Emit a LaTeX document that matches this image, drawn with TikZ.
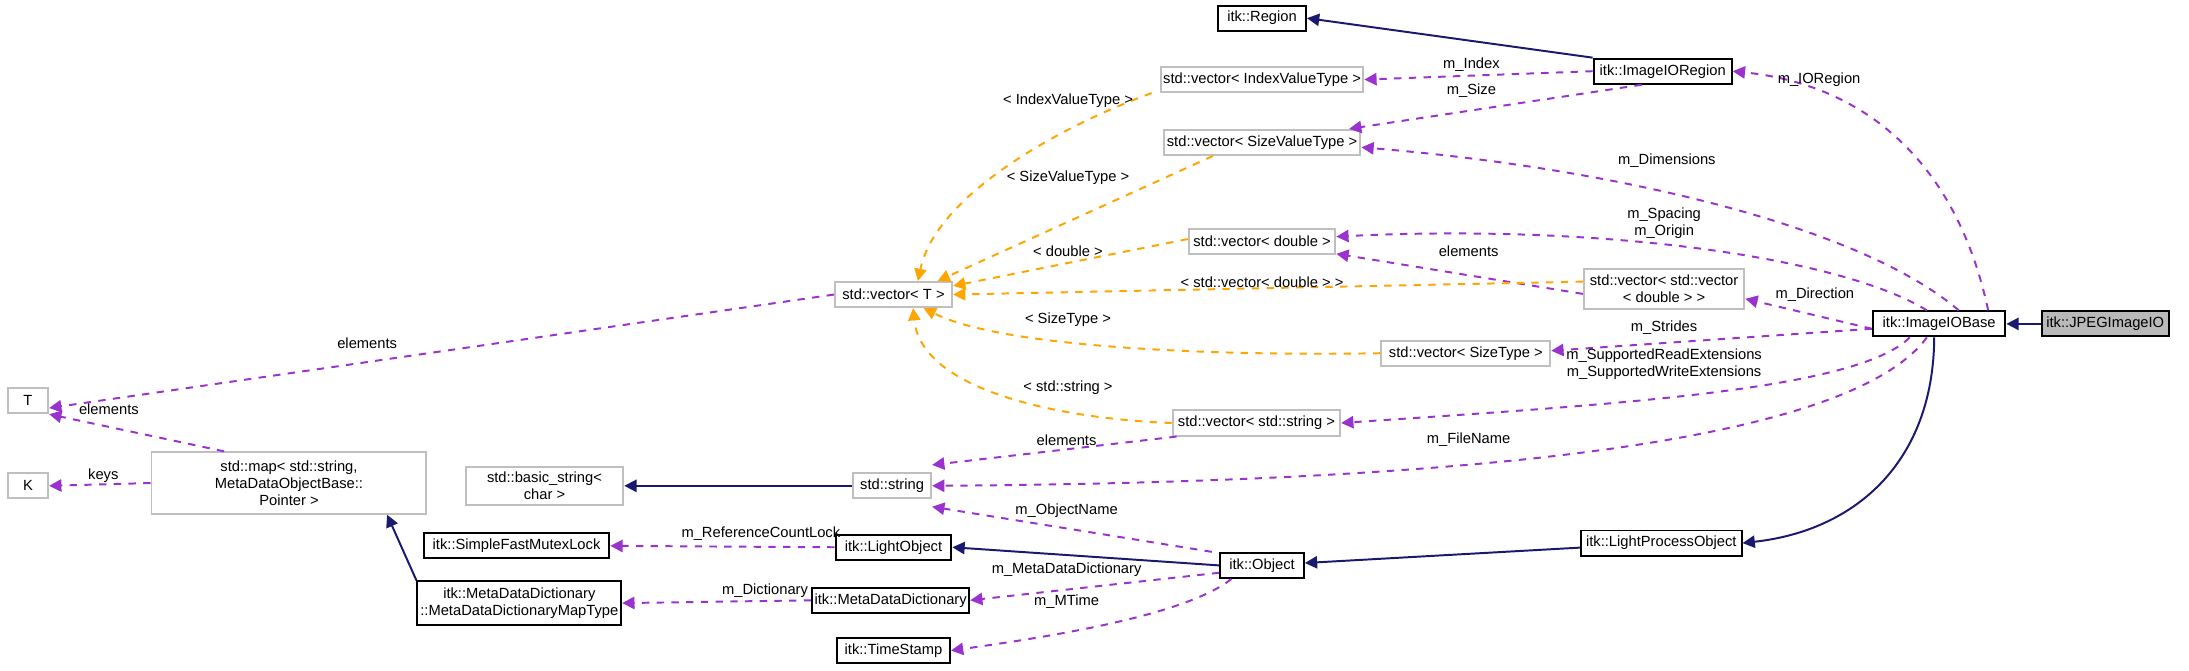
\documentclass[tikz,border=0pt]{standalone}
\usepackage{fontspec}
\setmainfont{Liberation Sans}
\usetikzlibrary{arrows.meta}
\definecolor{pur}{HTML}{9A32CD}
\definecolor{nav}{HTML}{191970}
\definecolor{org}{HTML}{FFA500}
\definecolor{gb}{HTML}{BFBFBF}
\begin{document}
\begin{tikzpicture}[x=0.02cm,y=-0.02cm,
  every node/.style={font=\fontsize{6}{7}\selectfont},
  box/.style={draw=black,thick,fill=white,minimum height=0.36cm,inner sep=1pt,align=center},
  gbox/.style={draw=gb,thick,fill=white,minimum height=0.36cm,inner sep=1pt,align=center},
  inh/.style={draw=nav,thick,-{Triangle[length=5pt,width=5pt]}},
  use/.style={draw=pur,thick,dashed,-{Triangle[length=5pt,width=5pt]}},
  tpl/.style={draw=org,thick,dashed,-{Triangle[length=5pt,width=5pt]}},
  lab/.style={inner sep=0pt,align=center}]
\useasboundingbox (0,0) rectangle (1568,480);
% nodes
\node[box,fill=gray!55,minimum width=1.82cm] (jpeg) at (1508,232) {itk::JPEGImageIO};
\node[box,minimum width=1.9cm] (iob) at (1389,232) {itk::ImageIOBase};
\node[box,minimum width=1.26cm] (reg) at (904,13) {itk::Region};
\node[box,minimum width=1.98cm] (ior) at (1191,51) {itk::ImageIORegion};
\node[gbox,minimum width=2.9cm] (ivt) at (904,57) {std::vector< IndexValueType >};
\node[gbox,minimum width=2.82cm] (svt) at (904,102) {std::vector< SizeValueType >};
\node[gbox,minimum width=2.1cm] (vd) at (904,173) {std::vector< double >};
\node[gbox,minimum width=2.3cm,minimum height=0.58cm] (vv) at (1192,207) {std::vector< std::vector\\< double > >};
\node[gbox,minimum width=1.68cm] (vt) at (640,211) {std::vector< T >};
\node[gbox,minimum width=2.42cm] (vst) at (1050,253) {std::vector< SizeType >};
\node[gbox,minimum width=2.4cm] (vs) at (900,303) {std::vector< std::string >};
\node[gbox,minimum width=0.58cm] (T) at (20,287) {T};
\node[gbox,minimum width=0.58cm] (K) at (20,348) {K};
\node[gbox,minimum width=3.94cm,minimum height=0.88cm] (map) at (207,346) {std::map< std::string,\\ MetaDataObjectBase::\\Pointer >};
\node[gbox,minimum width=2.26cm,minimum height=0.54cm] (bs) at (390,348) {std::basic\_string<\\char >};
\node[gbox,minimum width=1.12cm] (str) at (639,348) {std::string};
\node[box,minimum width=2.66cm] (sfml) at (370,391) {itk::SimpleFastMutexLock};
\node[box,minimum width=1.66cm] (lo) at (640,392) {itk::LightObject};
\node[box,minimum width=2.92cm,minimum height=0.62cm] (mt) at (372,432) {itk::MetaDataDictionary\\::MetaDataDictionaryMapType};
\node[box,minimum width=2.24cm] (mdd) at (638,430) {itk::MetaDataDictionary};
\node[box,minimum width=1.2cm] (obj) at (904,405) {itk::Object};
\node[box,minimum width=2.3cm] (lpo) at (1190,389) {itk::LightProcessObject};
\node[box,minimum width=1.62cm] (ts) at (640,466) {itk::TimeStamp};
% inheritance
\draw[inh] (jpeg) -- (iob);
\draw[inh] ([xshift=-2pt]iob.south) .. controls (1385,330) and (1330,380) .. (lpo.east);
\draw[inh] (lpo) -- (obj);
\draw[inh] (obj.west) -- (lo.east);
\draw[inh] (ior.north west) -- (reg.east);
\draw[inh] (str) -- (bs);
\draw[inh] (mt.north west) -- ([xshift=40pt]map.south);
% usage
\draw[use] (ior.west) -- (ivt.east);
\node[lab] at (1054,46) {m\_Index};
\draw[use] ([xshift=20pt]ior.south west) -- ([xshift=-5pt]svt.north east);
\node[lab] at (1054,65) {m\_Size};
\draw[use] ([xshift=20pt]iob.north) .. controls (1400,110) and (1330,60) .. (ior.east);
\node[lab] at (1303,57) {m\_IORegion};
\draw[use] ([xshift=8pt]iob.north) .. controls (1330,160) and (1150,120) .. ([yshift=-2pt]svt.east);
\node[lab] at (1194,115) {m\_Dimensions};
\draw[use] ([xshift=-5pt]iob.north) .. controls (1320,185) and (1150,160) .. ([yshift=2pt]vd.east);
\node[lab] at (1192,160) {m\_Spacing\\m\_Origin};
\draw[use] ([yshift=-2pt]vv.west) -- ([yshift=-5pt]vd.east);
\node[lab] at (1052,180) {elements};
\draw[use] ([yshift=-2pt]iob.west) -- ([yshift=-4pt]vv.east);
\node[lab] at (1300,211) {m\_Direction};
\draw[use] ([yshift=-2pt]iob.west) -- ([yshift=1pt]vst.east);
\node[lab] at (1192,235) {m\_Strides};
\draw[use] ([xshift=-12pt]iob.south) .. controls (1330,280) and (1150,290) .. (vs.east);
\node[lab] at (1192,261) {m\_SupportedReadExtensions\\m\_SupportedWriteExtensions};
\draw[use] ([xshift=-5pt]iob.south) .. controls (1330,310) and (1100,345) .. (str.east);
\node[lab] at (1052,315) {m\_FileName};
\draw[use] ([xshift=2pt]vs.south west) -- ([yshift=3pt]str.north east);
\node[lab] at (764,315) {elements};
\draw[use] ([xshift=-3pt]obj.north west) -- ([yshift=-3pt]str.south east);
\node[lab] at (764,366) {m\_ObjectName};
\draw[use] (lo.west) -- (sfml.east);
\node[lab] at (545,382) {m\_ReferenceCountLock};
\draw[use] ([yshift=-3pt]obj.west) -- (mdd.east);
\node[lab] at (764,408) {m\_MetaDataDictionary};
\draw[use] (mdd.west) -- (mt.east);
\node[lab] at (548,423) {m\_Dictionary};
\draw[use] ([xshift=5pt]obj.south west) .. controls (850,440) and (760,455) .. (ts.east);
\node[lab] at (764,431) {m\_MTime};
\draw[use] (vt.west) -- ([yshift=-3pt]T.east);
\node[lab] at (263,246) {elements};
\draw[use] ([xshift=30pt]map.north west) -- (T.south east);
\node[lab] at (78,293) {elements};
\draw[use] (map.west) -- (K.east);
\node[lab] at (74,341) {keys};
% templates
\draw[tpl] ([xshift=-45pt]ivt.south) .. controls (760,90) and (670,140) .. ([xshift=10pt]vt.north);
\node[lab] at (765,72) {< IndexValueType >};
\draw[tpl] ([xshift=-20pt]svt.south) -- ([xshift=18pt]vt.north);
\node[lab] at (765,127) {< SizeValueType >};
\draw[tpl] ([yshift=1pt]vd.west) -- ([yshift=-2pt]vt.north east);
\node[lab] at (765,180) {< double >};
\draw[tpl] ([yshift=3pt]vv.west) -- (vt.east);
\node[lab] at (904,202) {< std::vector< double > >};
\draw[tpl] (vst.west) .. controls (880,255) and (720,250) .. ([xshift=-12pt]vt.south east);
\node[lab] at (765,229) {< SizeType >};
\draw[tpl] (vs.west) .. controls (760,300) and (660,280) .. ([xshift=8pt]vt.south);
\node[lab] at (765,278) {< std::string >};
\end{tikzpicture}
\end{document}
